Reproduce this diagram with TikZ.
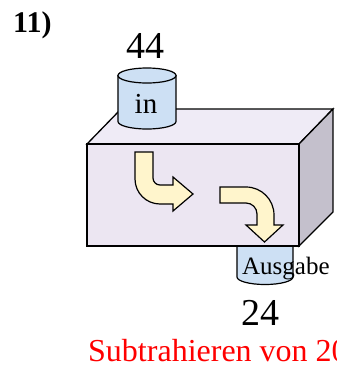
\documentclass[tikz,border=0pt]{standalone}
\usepackage{fontspec}
\setmainfont{Liberation Serif}
\definecolor{frontc}{HTML}{ECE6F2}
\definecolor{topc}{HTML}{EFEBF6}
\definecolor{sidec}{HTML}{C4C0CC}
\definecolor{cylc}{HTML}{CDE0F4}
\definecolor{arrc}{HTML}{FFF5CC}
\tikzset{
  boxface/.style={draw=black, line width=1.3pt, line join=miter},
  cyl/.style={draw=black, fill=cylc, line width=1.2pt},
  bentarrow/.style={draw=black, fill=arrc, line width=1.2pt, line join=miter},
  txt/.style={inner sep=0pt, anchor=base, text=black},
}
\begin{document}
\begin{tikzpicture}[x=1pt, y=-1pt]
\useasboundingbox (0,0) rectangle (337,368);
% output cylinder (behind box)
\path[cyl] (237,235) -- (237,277) .. controls (237,281.1) and (249.5,284.5) .. (265,284.5) .. controls (280.5,284.5) and (293,281.1) .. (293,277) -- (293,235) -- cycle;
% box
\path[boxface, fill=topc] (87,144) -- (121,109) -- (333,109) -- (299,144) -- cycle;
\path[boxface, fill=sidec] (299,144) -- (333,109) -- (333,212) -- (299,246) -- cycle;
\path[boxface, fill=frontc] (87,144) rectangle (299,246);
% input cylinder
\path[cyl] (118,75.5) -- (118,121.5) .. controls (118,125.6) and (131,129) .. (147,129) .. controls (163,129) and (176,125.6) .. (176,121.5) -- (176,75.5) -- cycle;
\path[cyl] (147,75.5) ellipse[x radius=29, y radius=7.5];
% arrows
\path[bentarrow] (135,152) -- (153,152) -- (153,178) .. controls (153,181.9) and (156.1,185) .. (160,185) -- (173,185) -- (173,177) -- (193,194) -- (173,211) -- (173,204) -- (160,204) .. controls (146.2,204) and (135,192.8) .. (135,179) -- cycle;
\path[bentarrow] (220,187) -- (246,187) .. controls (261.5,187) and (274,199.5) .. (274,215) -- (274,225) -- (283,225) -- (264.5,242) -- (246,225) -- (257,225) -- (257,214) .. controls (257,207.9) and (252.1,203) .. (246,203) -- (220,203) -- cycle;
% texts
\node[txt, anchor=base west, font=\fontsize{30}{32}\selectfont\bfseries] (num) at (13,32) {11)};
\node[txt, font=\fontsize{38}{40}\selectfont] (inval) at (146,58) {44};
\node[txt, font=\fontsize{29}{31}\selectfont] (inlbl) at (146,113) {in};
\node[txt, anchor=base west, font=\fontsize{25}{28}\selectfont] (outlbl) at (242,274) {Ausgabe};
\node[txt, font=\fontsize{38}{40}\selectfont] (outval) at (260.5,325) {24};
\begin{scope}
\clip (0,0) rectangle (337,368);
\node[txt, anchor=base west, text=red, font=\fontsize{32}{34}\selectfont] (cap) at (88,361.5) {Subtrahieren von 20};
\end{scope}
\end{tikzpicture}
\end{document}
